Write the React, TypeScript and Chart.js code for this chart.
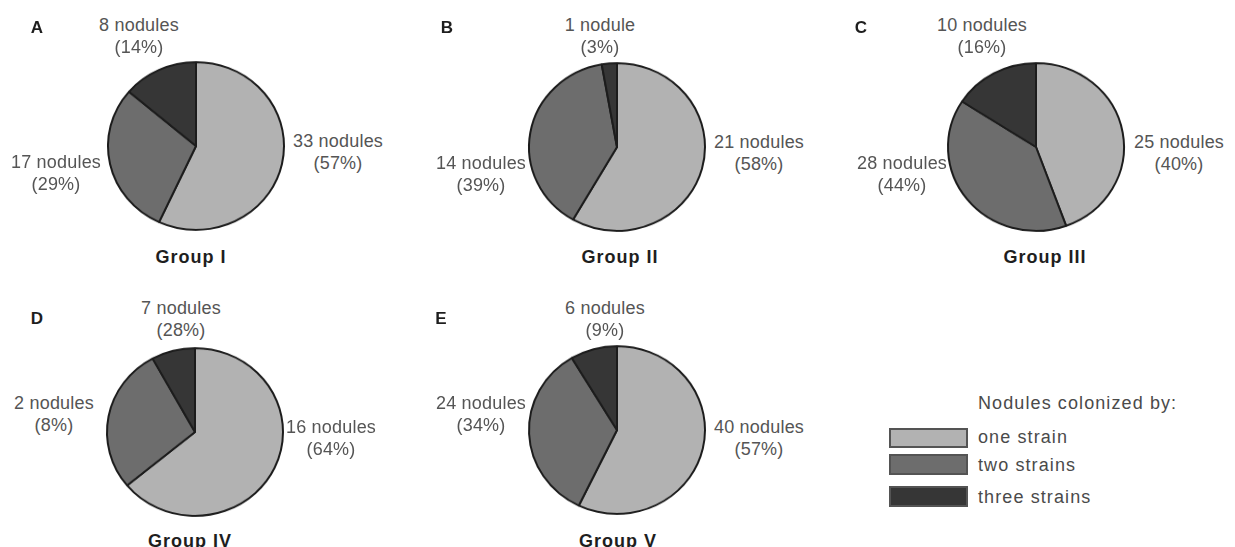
import React, { useEffect, useRef } from 'react';
import { Chart, registerables } from 'chart.js';

Chart.register(...registerables);

// ---------- data ----------
const categories = ['one strain', 'two strains', 'three strains'];
const sliceColors = ['#b2b2b2', '#6d6d6d', '#363636'];
const legendTitle = 'Nodules colonized by:';

const panelLetters = ['A', 'B', 'C', 'D', 'E'];
const groupNames = ['Group I', 'Group II', 'Group III', 'Group IV', 'Group V'];

// slice values (one strain, two strains, three strains) as drawn
const groupI = [33, 17, 8];
const groupII = [21, 14, 1];
const groupIII = [28, 25, 10];
const groupIV = [16, 7, 2];
const groupV = [40, 24, 6];
const groupValues = [groupI, groupII, groupIII, groupIV, groupV];

// label texts as printed
const rightLabels = [
  ['33 nodules', '(57%)'],
  ['21 nodules', '(58%)'],
  ['25 nodules', '(40%)'],
  ['16 nodules', '(64%)'],
  ['40 nodules', '(57%)'],
];
const leftLabels = [
  ['17 nodules', '(29%)'],
  ['14 nodules', '(39%)'],
  ['28 nodules', '(44%)'],
  ['2 nodules', '(8%)'],
  ['24 nodules', '(34%)'],
];
const topLabels = [
  ['8 nodules', '(14%)'],
  ['1 nodule', '(3%)'],
  ['10 nodules', '(16%)'],
  ['7 nodules', '(28%)'],
  ['6 nodules', '(9%)'],
];

// ---------- layout (positions only) ----------
type Pt = [number, number];
interface PanelLayout {
  center: Pt;
  top: Pt;
  right: Pt;
  left: Pt;
  group: Pt;
  letter: Pt;
}
const layouts: PanelLayout[] = [
  { center: [196, 146], top: [139, 25], right: [338, 141], left: [56, 162], group: [191, 257], letter: [37, 27] },
  { center: [617, 146.5], top: [600, 25], right: [759, 142], left: [481, 163], group: [620, 257], letter: [447, 27] },
  { center: [1036, 146.5], top: [982, 25], right: [1179, 142], left: [902, 163], group: [1045, 257], letter: [861, 27] },
  { center: [195, 431.5], top: [181, 308], right: [331, 427], left: [54, 403], group: [190, 541], letter: [37, 318] },
  { center: [617, 429.5], top: [605, 308], right: [759, 427], left: [481, 403], group: [618, 541], letter: [441, 318] },
];

const FONT = "'Liberation Sans', Arial, sans-serif";
const LABEL_COLOR = '#555555';
const LINE_GAP = 22;
const CANVAS = 190;
const RADIUS = 88;

function PieChart({ values }: { values: number[] }) {
  const ref = useRef<HTMLCanvasElement | null>(null);
  useEffect(() => {
    if (!ref.current) return;
    const chart = new Chart(ref.current, {
      type: 'pie',
      data: {
        labels: categories,
        datasets: [
          {
            data: values,
            backgroundColor: sliceColors,
            borderColor: '#1c1c1c',
            borderWidth: 2,
          },
        ],
      },
      options: {
        responsive: false,
        animation: false,
        radius: RADIUS,
        layout: { padding: 0 },
        plugins: {
          legend: { display: false },
          tooltip: { enabled: false },
          title: { display: false },
        },
        events: [],
      } as any,
    });
    return () => chart.destroy();
  }, [values]);
  return <canvas ref={ref} width={CANVAS} height={CANVAS} style={{ width: CANVAS, height: CANVAS, display: 'block' }} />;
}

function TextAt({ x, y, text, style }: { x: number; y: number; text: string; style?: React.CSSProperties }) {
  return (
    <div
      style={{
        position: 'absolute',
        left: x,
        top: y,
        transform: 'translate(-50%, -50%)',
        whiteSpace: 'nowrap',
        lineHeight: 1,
        fontFamily: FONT,
        fontSize: 18,
        color: LABEL_COLOR,
        letterSpacing: 0.2,
        ...style,
      }}
    >
      {text}
    </div>
  );
}

function TwoLine({ pos, lines }: { pos: Pt; lines: string[] }) {
  return (
    <>
      <TextAt x={pos[0]} y={pos[1]} text={lines[0]} />
      <TextAt x={pos[0]} y={pos[1] + LINE_GAP} text={lines[1]} />
    </>
  );
}

function Panel({ i }: { i: number }) {
  const L = layouts[i];
  return (
    <>
      <div
        style={{
          position: 'absolute',
          left: L.center[0] - CANVAS / 2,
          top: L.center[1] - CANVAS / 2,
          width: CANVAS,
          height: CANVAS,
          transform: 'scaleY(0.953)',
          transformOrigin: '50% 50%',
        }}
      >
        <PieChart values={groupValues[i]} />
      </div>
      <TwoLine pos={L.top} lines={topLabels[i]} />
      <TwoLine pos={L.right} lines={rightLabels[i]} />
      <TwoLine pos={L.left} lines={leftLabels[i]} />
      <TextAt x={L.group[0]} y={L.group[1]} text={groupNames[i]} style={{ fontWeight: 'bold', color: '#1e1e1e', letterSpacing: 1 }} />
      <TextAt x={L.letter[0]} y={L.letter[1]} text={panelLetters[i]} style={{ fontWeight: 'bold', color: '#1e1e1e', fontSize: 17 }} />
    </>
  );
}

const legendBoxes: { top: number; h: number }[] = [
  { top: 428, h: 20 },
  { top: 454, h: 21 },
  { top: 486, h: 21 },
];
const legendTextY = [437, 465, 497];

function Legend() {
  const textStyle: React.CSSProperties = {
    position: 'absolute',
    left: 978,
    transform: 'translateY(-50%)',
    whiteSpace: 'nowrap',
    lineHeight: 1,
    fontFamily: FONT,
    fontSize: 18,
    color: '#4a4a4a',
    letterSpacing: 1.1,
  };
  return (
    <>
      <div style={{ ...textStyle, top: 403 }}>{legendTitle}</div>
      {categories.map((c, k) => (
        <React.Fragment key={c}>
          <div
            style={{
              position: 'absolute',
              left: 889,
              top: legendBoxes[k].top,
              width: 79,
              height: legendBoxes[k].h,
              boxSizing: 'border-box',
              background: sliceColors[k],
              border: '2px solid #545454',
            }}
          />
          <div style={{ ...textStyle, top: legendTextY[k] }}>{c}</div>
        </React.Fragment>
      ))}
    </>
  );
}

export default function App() {
  return (
    <div
      style={{
        position: 'fixed',
        left: 0,
        top: 0,
        width: 1235,
        height: 547,
        overflow: 'hidden',
        background: '#ffffff',
      }}
    >
      {groupValues.map((_, i) => (
        <Panel key={i} i={i} />
      ))}
      <Legend />
    </div>
  );
}
